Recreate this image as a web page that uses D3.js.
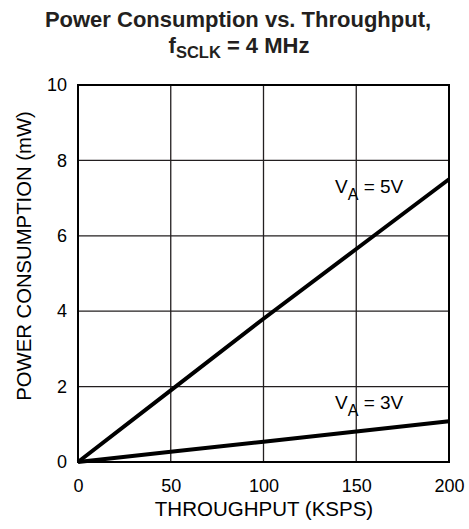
<!DOCTYPE html>
<html><head><meta charset="utf-8">
<script src="https://cdn.jsdelivr.net/npm/d3@7"></script>
<style>body{margin:0;background:#fff}</style>
</head><body>
<svg id="c" width="469" height="529"></svg>
<script>
const throughput = [0, 50, 100, 150, 200];
const va5 = [0, 1.9, 3.8, 5.65, 7.5];
const va3 = [0, 0.27, 0.54, 0.81, 1.08];
const xTicks = [0, 50, 100, 150, 200];
const yTicks = [0, 2, 4, 6, 8, 10];

const svg = d3.select("#c");
const font = "Liberation Sans, Arial, sans-serif";
const m = {l: 78, r: 449, t: 85, b: 462};
const x = d3.scaleLinear().domain([0, 200]).range([m.l, m.r]);
const y = d3.scaleLinear().domain([0, 10]).range([m.b, m.t]);

// title
svg.append("text").attr("x", 238).attr("y", 27).attr("text-anchor", "middle")
  .attr("font-family", font).attr("font-weight", "bold").attr("font-size", 22).attr("fill", "#231f20")
  .text("Power Consumption vs. Throughput,");
const t2 = svg.append("text").attr("x", 239).attr("y", 53).attr("text-anchor", "middle")
  .attr("font-family", font).attr("font-weight", "bold").attr("font-size", 22).attr("fill", "#231f20");
t2.append("tspan").text("f");
t2.append("tspan").attr("font-size", 16.5).attr("dy", 5).text("SCLK");
t2.append("tspan").attr("dy", -5).text(" = 4 MHz");

// grid
const g = svg.append("g");
g.selectAll(".vg").data(xTicks).enter().append("line")
  .attr("x1", d => x(d)).attr("x2", d => x(d)).attr("y1", m.t).attr("y2", m.b)
  .attr("stroke", "#231f20").attr("stroke-width", 1.3);
g.selectAll(".hg").data(yTicks).enter().append("line")
  .attr("y1", d => y(d)).attr("y2", d => y(d)).attr("x1", m.l).attr("x2", m.r)
  .attr("stroke", "#231f20").attr("stroke-width", 1.3);
g.append("rect").attr("x", m.l).attr("y", m.t).attr("width", m.r - m.l).attr("height", m.b - m.t)
  .attr("fill", "none").attr("stroke", "#000").attr("stroke-width", 2);

// axes labels via d3 axes
const xa = svg.append("g").attr("transform", `translate(0,${m.b})`)
  .call(d3.axisBottom(x).tickValues(xTicks).tickSize(0).tickPadding(14));
xa.select(".domain").remove();
xa.selectAll("text").attr("font-family", font).attr("font-size", 18).attr("fill", "#000").attr("dy", "0.9em");
const ya = svg.append("g").attr("transform", `translate(${m.l},0)`)
  .call(d3.axisLeft(y).tickValues(yTicks).tickSize(0).tickPadding(11));
ya.select(".domain").remove();
ya.selectAll("text").attr("font-family", font).attr("font-size", 18).attr("fill", "#000");

svg.append("text").attr("x", 264).attr("y", 516).attr("text-anchor", "middle")
  .attr("font-family", font).attr("font-size", 20.5).attr("fill", "#000").text("THROUGHPUT (KSPS)");
svg.append("text").attr("transform", "translate(31,256) rotate(-90)").attr("text-anchor", "middle")
  .attr("font-family", font).attr("font-size", 20.3).attr("fill", "#000").text("POWER CONSUMPTION (mW)");

// lines
const line = d3.line().x((d, i) => x(throughput[i])).y(d => y(d));
[va5, va3].forEach(s => svg.append("path").attr("d", line(s)).attr("fill", "none")
  .attr("stroke", "#000").attr("stroke-width", 4).attr("stroke-linecap", "butt"));

function lab(xp, yp, v) {
  const tt = svg.append("text").attr("x", xp).attr("y", yp).attr("font-family", font)
    .attr("font-size", 19).attr("fill", "#000");
  tt.append("tspan").text("V");
  tt.append("tspan").attr("font-size", 16).attr("dy", 7).text("A");
  tt.append("tspan").attr("dy", -7).text(" = " + v);
}
lab(335, 193, "5V");
lab(335, 409, "3V");
</script>
</body></html>
